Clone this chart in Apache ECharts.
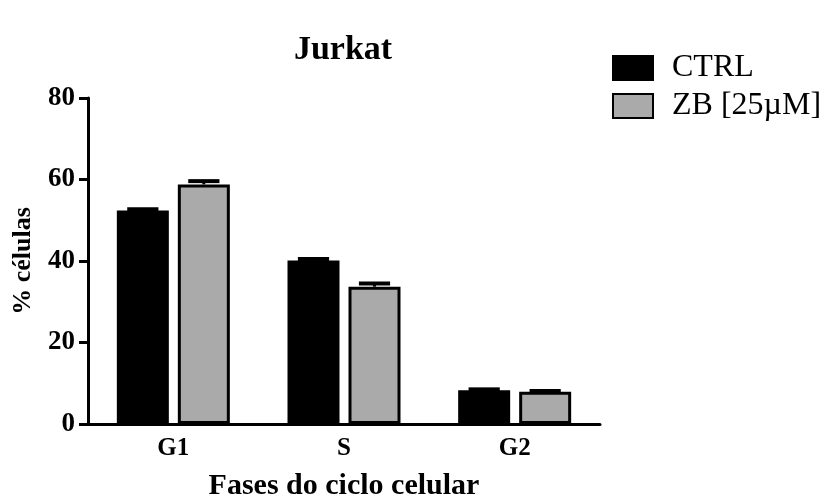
<!DOCTYPE html>
<html>
<head>
<meta charset="utf-8">
<script src="https://cdn.jsdelivr.net/npm/echarts@6/dist/echarts.min.js"></script>
<style>
  html, body { margin: 0; padding: 0; background: #ffffff; overflow: hidden; }
  #chart { width: 831px; height: 498px; }
</style>
</head>
<body>
<div id="chart"></div>
<script>
// Cell-cycle phase distribution for Jurkat cells
const phases = ['G1', 'S', 'G2'];
const ctrlValues = [52.4, 40.1, 8.3];
const ctrlErrors = [0.3, 0.4, 0.2];
const zbValues = [58.8, 33.7, 7.9];
const zbErrors = [0.8, 0.8, 0.2];
const yTicks = [0, 20, 40, 60, 80];

const BAR_W = 52;
const BAR_GAP = 9;
const serif = '"Liberation Serif", "DejaVu Serif", serif';

// Draws a mean + error whisker with a cap, shifted to sit over its bar
function errorBar(offset, capColor) {
  return function (params, api) {
    const idx = api.value(0);
    const mean = api.value(1);
    const err = api.value(2);
    const base = api.coord([idx, mean]);
    const top = api.coord([idx, mean + err]);
    const x = base[0] + offset;
    const half = BAR_W * 0.3;
    return {
      type: 'group',
      children: [
        { type: 'line', shape: { x1: x, y1: base[1], x2: x, y2: top[1] },
          style: { stroke: capColor, lineWidth: 3 } },
        { type: 'line', shape: { x1: x - half, y1: top[1], x2: x + half, y2: top[1] },
          style: { stroke: capColor, lineWidth: 4 } }
      ]
    };
  };
}

const chart = echarts.init(document.getElementById('chart'), null, { width: 831, height: 498 });
chart.setOption({
  backgroundColor: '#ffffff',
  animation: false,
  title: {
    text: 'Jurkat',
    left: 343, top: 33, textAlign: 'center', padding: 0,
    textStyle: { fontFamily: serif, fontWeight: 'bold', fontSize: 34, color: '#000' }
  },
  legend: {
    orient: 'vertical',
    left: 612, top: 52, padding: 0,
    icon: 'rect',
    itemWidth: 40, itemHeight: 24, itemGap: 6,
    textStyle: { fontFamily: serif, fontSize: 32, lineHeight: 30, color: '#000', padding: [0, 0, 0, 14] },
    data: ['CTRL', 'ZB [25µM]']
  },
  grid: { left: 88, top: 98, width: 512, height: 326, containLabel: false, outerBoundsMode: 'none' },
  xAxis: {
    type: 'category',
    data: phases,
    axisLine: { lineStyle: { color: '#000', width: 3 } },
    axisTick: { alignWithLabel: true, length: 9, lineStyle: { color: '#000', width: 3 } },
    axisLabel: { fontFamily: serif, fontWeight: 'bold', fontSize: 25, color: '#000', margin: 12 },
    name: 'Fases do ciclo celular',
    nameLocation: 'middle', nameGap: 47,
    nameTextStyle: { fontFamily: serif, fontWeight: 'bold', fontSize: 30, color: '#000' }
  },
  yAxis: {
    type: 'value',
    min: yTicks[0], max: yTicks[yTicks.length - 1], interval: 20,
    axisLine: { show: true, lineStyle: { color: '#000', width: 3 } },
    axisTick: { show: true, length: 9, lineStyle: { color: '#000', width: 3 } },
    axisLabel: { fontFamily: serif, fontWeight: 'bold', fontSize: 27, color: '#000', margin: 13 },
    splitLine: { show: false },
    name: '% células',
    nameLocation: 'middle', nameGap: 52, nameRotate: 90,
    nameTextStyle: { fontFamily: serif, fontWeight: 'bold', fontSize: 26, color: '#000' }
  },
  series: [
    {
      name: 'CTRL', type: 'bar',
      data: ctrlValues,
      barWidth: BAR_W, barGap: (BAR_GAP / BAR_W * 100) + '%',
      itemStyle: { color: '#000000', borderColor: '#000000', borderWidth: 3 }
    },
    {
      name: 'ZB [25µM]', type: 'bar',
      data: zbValues,
      barWidth: BAR_W,
      itemStyle: { color: '#aaaaaa', borderColor: '#000000', borderWidth: 3 }
    },
    {
      type: 'custom', silent: true, z: 1,
      renderItem: errorBar(-(BAR_W + BAR_GAP) / 2, '#000'),
      data: phases.map((p, i) => [i, ctrlValues[i], ctrlErrors[i]])
    },
    {
      type: 'custom', silent: true, z: 1,
      renderItem: errorBar((BAR_W + BAR_GAP) / 2, '#000'),
      data: phases.map((p, i) => [i, zbValues[i], zbErrors[i]])
    }
  ]
});
</script>
</body>
</html>
